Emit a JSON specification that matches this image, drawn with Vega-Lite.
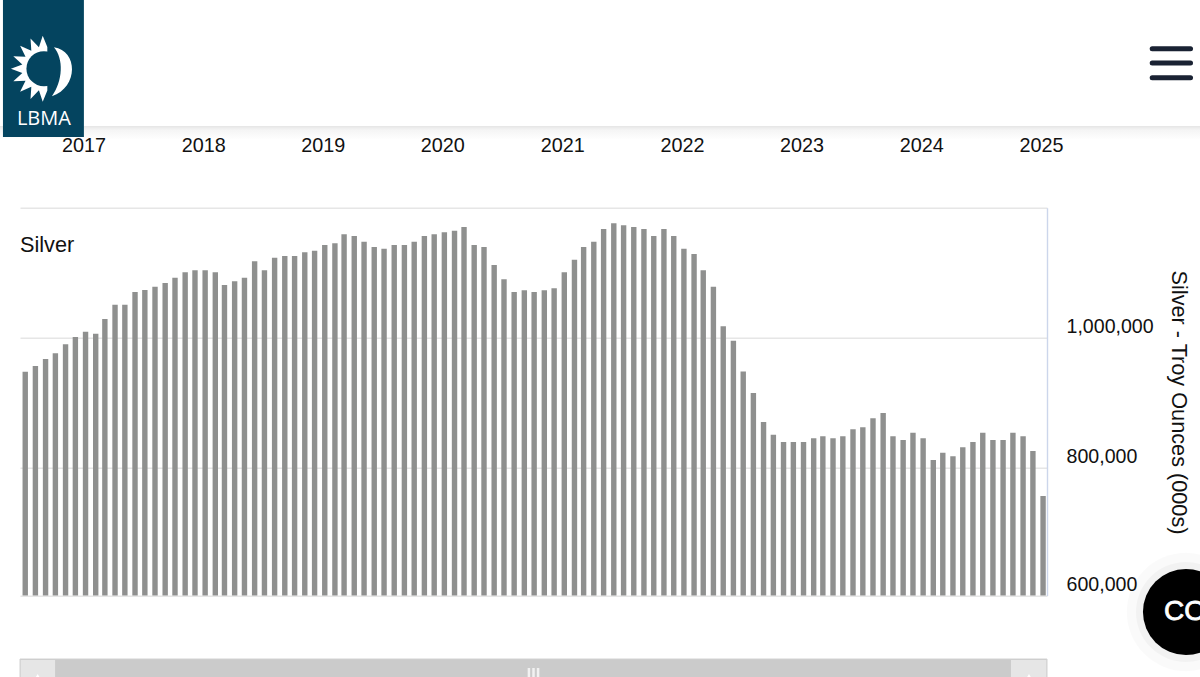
{
"$schema":"https://vega.github.io/schema/vega-lite/v6.json",
"width":1027,"height":387.8,
"autosize":{"type":"none"},
"padding":{"left":20,"top":207.7,"right":153,"bottom":81.5},
"background":"white",
"config":{"view":{"stroke":null},"font":"Liberation Sans"},
"datasets":{
"silver":[
{"month":"2016-07-01","oz":947700},{"month":"2016-08-01","oz":956500},{"month":"2016-09-01","oz":967200},{"month":"2016-10-01","oz":976000},{"month":"2016-11-01","oz":989800},{"month":"2016-12-01","oz":1001100},
{"month":"2017-01-01","oz":1009200},{"month":"2017-02-01","oz":1006200},{"month":"2017-03-01","oz":1028800},{"month":"2017-04-01","oz":1050800},{"month":"2017-05-01","oz":1050800},{"month":"2017-06-01","oz":1070300},{"month":"2017-07-01","oz":1073400},{"month":"2017-08-01","oz":1078500},{"month":"2017-09-01","oz":1084200},{"month":"2017-10-01","oz":1092300},{"month":"2017-11-01","oz":1100600},{"month":"2017-12-01","oz":1103700},
{"month":"2018-01-01","oz":1103700},{"month":"2018-02-01","oz":1100600},{"month":"2018-03-01","oz":1081100},{"month":"2018-04-01","oz":1086800},{"month":"2018-05-01","oz":1092300},{"month":"2018-06-01","oz":1117500},{"month":"2018-07-01","oz":1103700},{"month":"2018-08-01","oz":1123100},{"month":"2018-09-01","oz":1125700},{"month":"2018-10-01","oz":1125700},{"month":"2018-11-01","oz":1131400},{"month":"2018-12-01","oz":1133800},
{"month":"2019-01-01","oz":1142600},{"month":"2019-02-01","oz":1145200},{"month":"2019-03-01","oz":1159100},{"month":"2019-04-01","oz":1156500},{"month":"2019-05-01","oz":1147700},{"month":"2019-06-01","oz":1139500},{"month":"2019-07-01","oz":1136900},{"month":"2019-08-01","oz":1142600},{"month":"2019-09-01","oz":1142600},{"month":"2019-10-01","oz":1147700},{"month":"2019-11-01","oz":1156500},{"month":"2019-12-01","oz":1159100},
{"month":"2020-01-01","oz":1162200},{"month":"2020-02-01","oz":1164600},{"month":"2020-03-01","oz":1170300},{"month":"2020-04-01","oz":1142600},{"month":"2020-05-01","oz":1139500},{"month":"2020-06-01","oz":1111800},{"month":"2020-07-01","oz":1089800},{"month":"2020-08-01","oz":1070300},{"month":"2020-09-01","oz":1072900},{"month":"2020-10-01","oz":1070300},{"month":"2020-11-01","oz":1072900},{"month":"2020-12-01","oz":1076000},
{"month":"2021-01-01","oz":1100600},{"month":"2021-02-01","oz":1120000},{"month":"2021-03-01","oz":1139500},{"month":"2021-04-01","oz":1147700},{"month":"2021-05-01","oz":1167200},{"month":"2021-06-01","oz":1176000},{"month":"2021-07-01","oz":1172900},{"month":"2021-08-01","oz":1170300},{"month":"2021-09-01","oz":1167200},{"month":"2021-10-01","oz":1156500},{"month":"2021-11-01","oz":1167200},{"month":"2021-12-01","oz":1156500},
{"month":"2022-01-01","oz":1136900},{"month":"2022-02-01","oz":1128800},{"month":"2022-03-01","oz":1103700},{"month":"2022-04-01","oz":1078500},{"month":"2022-05-01","oz":1017500},{"month":"2022-06-01","oz":995400},{"month":"2022-07-01","oz":948000},{"month":"2022-08-01","oz":914900},{"month":"2022-09-01","oz":870300},{"month":"2022-10-01","oz":850800},{"month":"2022-11-01","oz":839500},{"month":"2022-12-01","oz":839500},
{"month":"2023-01-01","oz":839500},{"month":"2023-02-01","oz":845200},{"month":"2023-03-01","oz":848300},{"month":"2023-04-01","oz":845200},{"month":"2023-05-01","oz":848300},{"month":"2023-06-01","oz":859100},{"month":"2023-07-01","oz":862200},{"month":"2023-08-01","oz":876000},{"month":"2023-09-01","oz":884200},{"month":"2023-10-01","oz":848300},{"month":"2023-11-01","oz":842600},{"month":"2023-12-01","oz":853800},
{"month":"2024-01-01","oz":845200},{"month":"2024-02-01","oz":811800},{"month":"2024-03-01","oz":823100},{"month":"2024-04-01","oz":817500},{"month":"2024-05-01","oz":831400},{"month":"2024-06-01","oz":839500},{"month":"2024-07-01","oz":853800},{"month":"2024-08-01","oz":842600},{"month":"2024-09-01","oz":842600},{"month":"2024-10-01","oz":853800},{"month":"2024-11-01","oz":848300},{"month":"2024-12-01","oz":825700},
{"month":"2025-01-01","oz":756500}
]},
"layer":[
{"data":{"name":"silver"},
 "mark":{"type":"bar","size":5.4,"color":"#8f908f"},
 "encoding":{
  "x":{"field":"month","type":"temporal","title":null,
   "scale":{"domain":["2016-06-15","2025-01-13"],"padding":0},
   "axis":{"orient":"top","domain":false,"ticks":false,"grid":false,"format":"%Y","tickCount":{"interval":"year","step":1},"labelFont":"Liberation Sans","labelFontSize":19.8,"labelColor":"#111111","labelPadding":52,"labelOffset":-2,"labelFlush":false,"labelOverlap":false,"labelBound":false,"zindex":1}},
  "y":{"field":"oz","type":"quantitative","title":"Silver - Troy Ounces (000s)",
   "scale":{"domain":[603400,1200000],"nice":false,"zero":false},
   "axis":{"orient":"right","values":[603400,800000,1000000,1200000],
    "labelExpr":"datum.value>1100000?'':(datum.value<700000?'600,000':format(datum.value,','))",
    "grid":true,"gridColor":"#e6e6e6","gridWidth":1.4,"ticks":false,"domain":true,"domainColor":"#ccd6eb","domainWidth":1.4,
    "labelFont":"Liberation Sans","labelFontSize":19.6,"labelColor":"#111111","labelPadding":19,"labelOffset":-11,"labelAlign":"left","labelBaseline":"middle","labelOverlap":false,"labelBound":false,"labelFlush":false,
    "titleFont":"Liberation Sans","titleFontSize":21.7,"titleFontWeight":"normal","titleColor":"#111111","titleAngle":90,"titleX":131,"titleY":194.3,"titleAlign":"center","titleBaseline":"middle"}},
  "y2":{"datum":603400}
 }},
{"mark":{"type":"rule","color":"#ccd6eb","strokeWidth":1.6},"encoding":{"y":{"datum":603400,"type":"quantitative"}}},
{"data":{"values":[{"date":"2016-06-15","oz":1142600,"label":"Silver"}]},
 "mark":{"type":"text","align":"left","baseline":"middle","font":"Liberation Sans","fontSize":21.7,"color":"#111111"},
 "encoding":{"x":{"field":"date","type":"temporal"},"y":{"field":"oz","type":"quantitative"},"text":{"field":"label"}}},

{"data":{"values":[{"a":"2016-04-10","b":"2026-04-28","top":1325700,"bottom":1304200}]},
 "mark":{"type":"rect","color":{"gradient":"linear","x1":0,"y1":0,"x2":0,"y2":1,"stops":[{"offset":0,"color":"rgba(0,0,0,0.10)"},{"offset":0.3,"color":"rgba(0,0,0,0.04)"},{"offset":1,"color":"rgba(0,0,0,0)"}]}},
 "encoding":{"x":{"field":"a","type":"temporal"},"x2":{"field":"b"},"y":{"field":"top","type":"quantitative"},"y2":{"field":"bottom"}}},

{"data":{"values":[{"a":"2016-04-24","b":"2016-12-27","top":1519500,"bottom":1308800}]},
 "mark":{"type":"rect","color":"#04445f"},
 "encoding":{"x":{"field":"a","type":"temporal"},"x2":{"field":"b"},"y":{"field":"top","type":"quantitative"},"y2":{"field":"bottom"}}},
{"data":{"values":[{"date":"2016-08-27","oz":1413800}]},
 "mark":{"type":"point","filled":true,"opacity":1,"color":"white","size":1600,"shape":"M0.17,-1.09L-0.06,-1.65L-0.25,-1.07L-0.67,-1.51L-0.63,-0.9L-1.19,-1.15L-0.92,-0.6L-1.53,-0.62L-1.08,-0.21L-1.65,0L-1.08,0.21L-1.53,0.62L-0.92,0.6L-1.19,1.15L-0.63,0.9L-0.67,1.51L-0.25,1.07L-0.06,1.65L0.17,1.09Z"},
 "encoding":{"x":{"field":"date","type":"temporal"},"y":{"field":"oz","type":"quantitative"}}},
{"data":{"values":[{"date":"2016-08-27","oz":1413800}]},
 "mark":{"type":"point","filled":true,"opacity":1,"color":"#04445f","size":1225,"shape":"circle"},
 "encoding":{"x":{"field":"date","type":"temporal"},"y":{"field":"oz","type":"quantitative"}}},
{"data":{"values":[{"date":"2016-08-27","oz":1413800}]},
 "mark":{"type":"point","filled":true,"opacity":1,"color":"white","size":1600,"shape":"M0.5,-1.08C1.7,-0.9 1.75,0.9 0.4,1.375C0.95,0.6 1.0,-0.5 0.5,-1.08Z"},
 "encoding":{"x":{"field":"date","type":"temporal"},"y":{"field":"oz","type":"quantitative"}}},
{"data":{"values":[{"date":"2016-08-27","oz":1337000,"label":"LBMA"}]},
 "mark":{"type":"text","align":"center","baseline":"middle","font":"Open Sans","fontSize":20,"color":"white"},
 "encoding":{"x":{"field":"date","type":"temporal"},"y":{"field":"oz","type":"quantitative"},"text":{"field":"label"}}},

{"data":{"values":[{"a":"2025-11-30","b":"2026-03-27","oz":1444600},{"a":"2025-11-30","b":"2026-03-27","oz":1422600},{"a":"2025-11-30","b":"2026-03-27","oz":1400000}]},
 "mark":{"type":"rule","color":"#1a2233","strokeWidth":5,"strokeCap":"round"},
 "encoding":{"x":{"field":"a","type":"temporal"},"x2":{"field":"b"},"y":{"field":"oz","type":"quantitative"}}},

{"data":{"values":[{"a":"2016-06-15","b":"2025-01-13","top":505700,"bottom":476500}]},
 "mark":{"type":"rect","color":"#cbcbcb","stroke":"#d2d2d2","strokeWidth":1},
 "encoding":{"x":{"field":"a","type":"temporal"},"x2":{"field":"b"},"y":{"field":"top","type":"quantitative"},"y2":{"field":"bottom"}}},
{"data":{"values":[{"a":"2016-06-17","b":"2016-09-30","top":504000,"bottom":476500},{"a":"2024-09-25","b":"2025-01-11","top":504000,"bottom":476500}]},
 "mark":{"type":"rect","color":"#e6e6e6"},
 "encoding":{"x":{"field":"a","type":"temporal"},"x2":{"field":"b"},"y":{"field":"top","type":"quantitative"},"y2":{"field":"bottom"}}},
{"data":{"values":[{"date":"2016-08-08","oz":478000},{"date":"2024-11-19","oz":478000}]},
 "mark":{"type":"point","filled":true,"opacity":1,"color":"white","shape":"triangle-up","size":50},
 "encoding":{"x":{"field":"date","type":"temporal"},"y":{"field":"oz","type":"quantitative"}}},
{"data":{"values":[{"date":"2020-09-15","top":491900,"bottom":476500},{"date":"2020-09-29","top":491900,"bottom":476500},{"date":"2020-10-13","top":491900,"bottom":476500}]},
 "mark":{"type":"rule","color":"#f2f2f2","strokeWidth":2.5},
 "encoding":{"x":{"field":"date","type":"temporal"},"y":{"field":"top","type":"quantitative"},"y2":{"field":"bottom"}}},

{"data":{"values":[{"date":"2026-03-13","oz":578000}]},
 "mark":{"type":"point","filled":true,"opacity":0.02,"color":"black","shape":"circle","size":14000},
 "encoding":{"x":{"field":"date","type":"temporal"},"y":{"field":"oz","type":"quantitative"}}},
{"data":{"values":[{"date":"2026-03-13","oz":578000}]},
 "mark":{"type":"point","filled":true,"opacity":0.03,"color":"black","shape":"circle","size":10000},
 "encoding":{"x":{"field":"date","type":"temporal"},"y":{"field":"oz","type":"quantitative"}}},
{"data":{"values":[{"date":"2026-03-13","oz":578000}]},
 "mark":{"type":"point","filled":true,"opacity":1,"color":"black","shape":"circle","size":7396},
 "encoding":{"x":{"field":"date","type":"temporal"},"y":{"field":"oz","type":"quantitative"}}},
{"data":{"values":[{"date":"2026-01-05","oz":578000,"label":"CO"}]},
 "mark":{"type":"text","align":"left","baseline":"middle","font":"Liberation Sans","fontSize":28,"color":"white","stroke":"white","strokeWidth":0.8},
 "encoding":{"x":{"field":"date","type":"temporal"},"y":{"field":"oz","type":"quantitative"},"text":{"field":"label"}}}
]
}
